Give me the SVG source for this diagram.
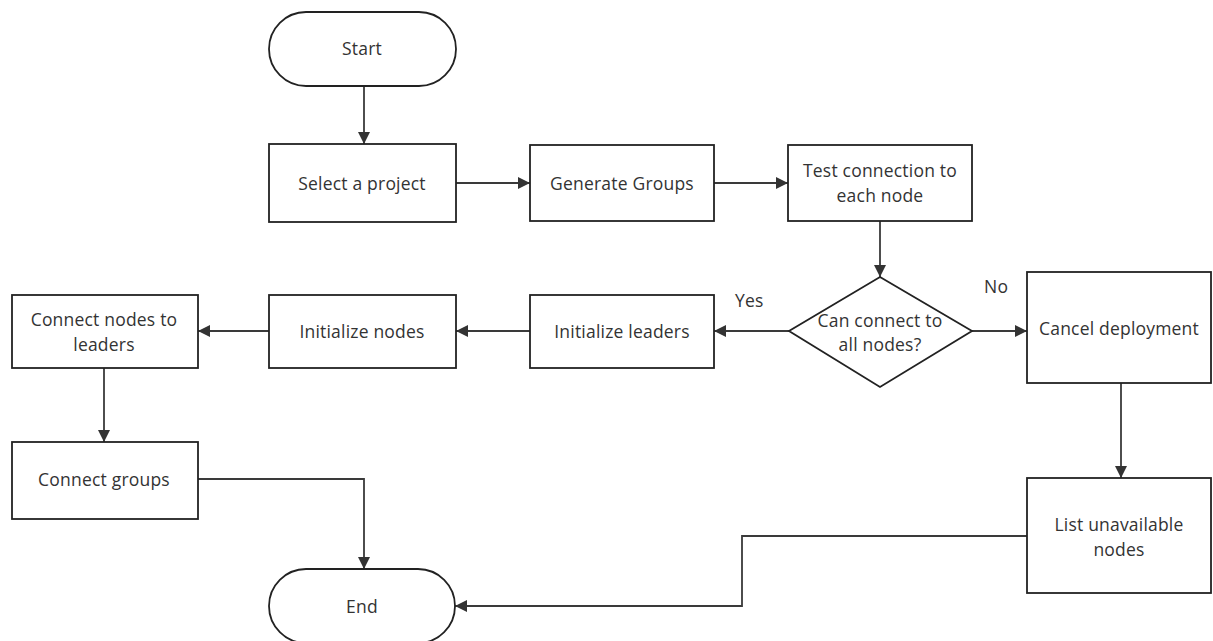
<svg xmlns="http://www.w3.org/2000/svg" width="1213" height="641" viewBox="0 0 1213 641">
  <style>
    .shape { fill: #ffffff; stroke: #222222; stroke-width: 1.8; }
    .label { font-family: "Open Sans", "Liberation Sans", sans-serif; font-size: 17.5px; letter-spacing: 0.2px; fill: #333333; text-anchor: middle; dominant-baseline: central; }
    .edge { fill: none; stroke: #3a3a3a; stroke-width: 1.8; }
    .tag { font-family: "Open Sans", "Liberation Sans", sans-serif; font-size: 17.5px; letter-spacing: 0.2px; fill: #333333; }
  </style>
  <defs>
    <marker id="arrow" viewBox="0 0 12 12" refX="12" refY="6" markerWidth="12" markerHeight="12" markerUnits="userSpaceOnUse" orient="auto">
      <path d="M0,0 L12,6 L0,12 Z" fill="#333333"/>
    </marker>
  </defs>
  <rect width="1213" height="641" fill="#ffffff"/>

  <g id="connectors">
    <path class="edge" d="M364,86 V144" marker-end="url(#arrow)"/>
    <path class="edge" d="M456,183 H530" marker-end="url(#arrow)"/>
    <path class="edge" d="M714,183 H788" marker-end="url(#arrow)"/>
    <path class="edge" d="M880,221 V277" marker-end="url(#arrow)"/>
    <path class="edge" d="M789,331 H714" marker-end="url(#arrow)"/>
    <path class="edge" d="M530,331 H456" marker-end="url(#arrow)"/>
    <path class="edge" d="M269,331 H198" marker-end="url(#arrow)"/>
    <path class="edge" d="M972,331 H1027" marker-end="url(#arrow)"/>
    <path class="edge" d="M104,368 V442" marker-end="url(#arrow)"/>
    <path class="edge" d="M1121,383 V478" marker-end="url(#arrow)"/>
    <path class="edge" d="M198,479 H364 V569" marker-end="url(#arrow)"/>
    <path class="edge" d="M1027,536 H742 V606 H455" marker-end="url(#arrow)"/>
    <text class="tag" x="735" y="307">Yes</text>
    <text class="tag" x="984" y="293">No</text>
  </g>

  <g id="start">
    <rect class="shape" x="269" y="12" width="187" height="74" rx="37" ry="37"/>
    <text class="label" x="362" y="48">Start</text>
  </g>
  <g id="select-project">
    <rect class="shape" x="269" y="144" width="187" height="78"/>
    <text class="label" x="362" y="183">Select a project</text>
  </g>
  <g id="generate-groups">
    <rect class="shape" x="530" y="145" width="184" height="76"/>
    <text class="label" x="622" y="183">Generate Groups</text>
  </g>
  <g id="test-connection">
    <rect class="shape" x="788" y="145" width="184" height="76"/>
    <text class="label" x="880" y="170">Test connection to</text>
    <text class="label" x="880" y="195">each node</text>
  </g>
  <g id="can-connect">
    <polygon class="shape" points="880,277 972,331 880,387 789,331"/>
    <text class="label" x="880" y="320">Can connect to</text>
    <text class="label" x="880" y="344">all nodes?</text>
  </g>
  <g id="initialize-leaders">
    <rect class="shape" x="530" y="295" width="184" height="73"/>
    <text class="label" x="622" y="331">Initialize leaders</text>
  </g>
  <g id="initialize-nodes">
    <rect class="shape" x="269" y="295" width="187" height="73"/>
    <text class="label" x="362" y="331">Initialize nodes</text>
  </g>
  <g id="connect-nodes-to-leaders">
    <rect class="shape" x="12" y="295" width="186" height="73"/>
    <text class="label" x="104" y="319">Connect nodes to</text>
    <text class="label" x="104" y="344">leaders</text>
  </g>
  <g id="connect-groups">
    <rect class="shape" x="12" y="442" width="186" height="77"/>
    <text class="label" x="104" y="479">Connect groups</text>
  </g>
  <g id="cancel-deployment">
    <rect class="shape" x="1027" y="272" width="184" height="111"/>
    <text class="label" x="1119" y="328">Cancel deployment</text>
  </g>
  <g id="list-unavailable">
    <rect class="shape" x="1027" y="478" width="184" height="115"/>
    <text class="label" x="1119" y="524">List unavailable</text>
    <text class="label" x="1119" y="549">nodes</text>
  </g>
  <g id="end">
    <rect class="shape" x="269" y="569" width="186" height="74" rx="37" ry="37"/>
    <text class="label" x="362" y="606">End</text>
  </g>
</svg>
